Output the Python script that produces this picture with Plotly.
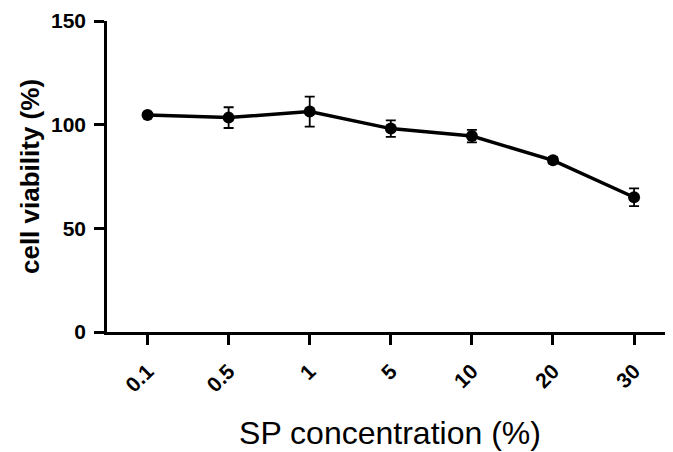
import plotly.graph_objects as go

categories = ["0.1", "0.5", "1", "5", "10", "20", "30"]
viability = [104.7, 103.4, 106.3, 98.1, 94.5, 82.8, 65.0]
errors = [1.0, 5.0, 7.2, 4.0, 3.0, 1.5, 4.3]
y_ticks = [0, 50, 100, 150]

fig = go.Figure()
fig.add_trace(go.Scatter(
    x=list(range(len(categories))),
    y=viability,
    mode="lines+markers",
    line=dict(color="black", width=3.5),
    marker=dict(color="black", size=12, symbol="circle"),
    error_y=dict(type="data", array=errors, visible=True,
                 color="black", thickness=1.8, width=5),
    showlegend=False,
    cliponaxis=False,
))

# the page body adds an 8px offset, so margins are set to compensate
fig.update_layout(
    width=673, height=452,
    margin=dict(l=99, r=8, t=13, b=127.5, autoexpand=False),
    paper_bgcolor="white", plot_bgcolor="white",
    font=dict(family="Liberation Sans, Arial, sans-serif", color="black"),
    xaxis=dict(
        tickmode="array",
        tickvals=list(range(len(categories))),
        ticktext=categories,
        range=[-0.5, 6.48],
        showline=True, linecolor="black", linewidth=2.5,
        ticks="outside", ticklen=10, tickwidth=2.5, tickcolor="black",
        tickangle=-45, ticklabelstandoff=6,
        tickfont=dict(size=21, weight="bold"),
        showgrid=False, zeroline=False, automargin=False,
        title=dict(text="SP concentration (%)",
                   font=dict(size=32), standoff=27),
    ),
    yaxis=dict(
        range=[0, 150],
        tickvals=y_ticks,
        showline=True, linecolor="black", linewidth=2.5,
        ticks="outside", ticklen=10, tickwidth=2.5, tickcolor="black",
        ticklabelstandoff=4,
        tickfont=dict(size=21, weight="bold"),
        showgrid=False, zeroline=False, automargin=False,
        title=dict(text="cell viability (%)",
                   font=dict(size=26, weight="bold"), standoff=4),
    ),
)

fig.write_html("out.html")
